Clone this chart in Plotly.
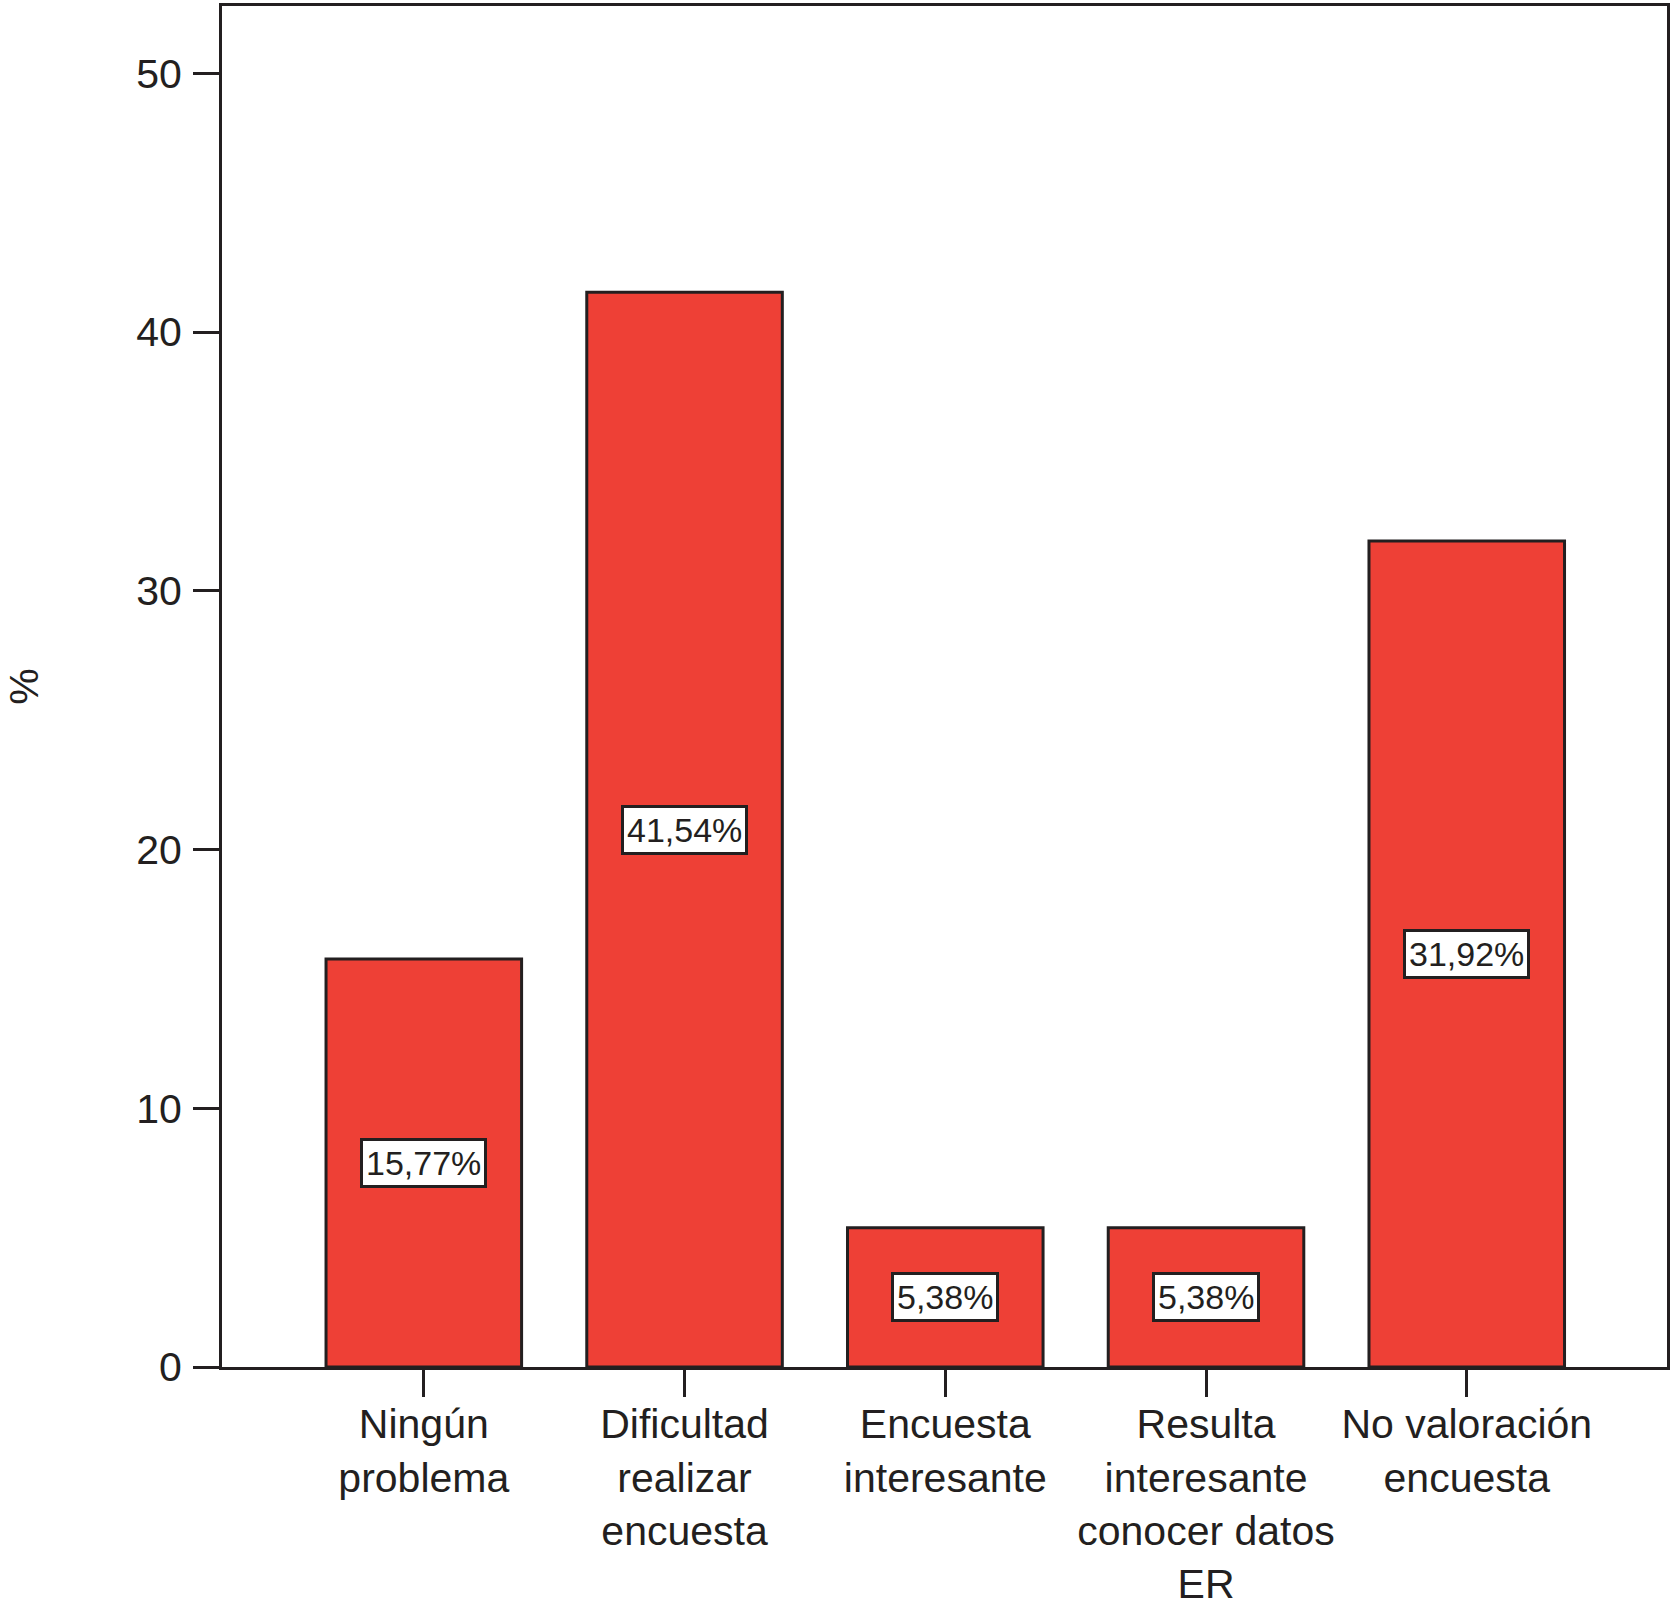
import plotly.graph_objects as go

categories = [
    "Ningún<br>problema",
    "Dificultad<br>realizar<br>encuesta",
    "Encuesta<br>interesante",
    "Resulta<br>interesante<br>conocer datos<br>ER",
    "No valoración<br>encuesta",
]
values = [15.77, 41.54, 5.38, 5.38, 31.92]
value_labels = ["15,77%", "41,54%", "5,38%", "5,38%", "31,92%"]
y_ticks = [0, 10, 20, 30, 40, 50]

INK = "#231f20"
RED = "#ee4036"
FONT = "Liberation Sans, Arial, Helvetica, sans-serif"

fig = go.Figure()
fig.add_trace(go.Bar(
    x=list(range(len(categories))),
    y=values,
    width=0.75,
    marker=dict(color=RED, line=dict(color=INK, width=3)),
    hoverinfo="skip",
))

for i, (v, lab) in enumerate(zip(values, value_labels)):
    fig.add_annotation(
        x=i, y=v / 2, text=lab, showarrow=False,
        font=dict(family=FONT, size=34, color=INK),
        bgcolor="white", bordercolor=INK, borderwidth=3, borderpad=3,
        xanchor="center", yanchor="middle",
    )

fig.update_layout(
    width=1673, height=1610,
    margin=dict(l=222, r=4, t=3, b=239),
    paper_bgcolor="white", plot_bgcolor="white",
    showlegend=False,
    font=dict(family=FONT, size=41, color=INK),
    bargap=0.25,
)
fig.update_xaxes(
    range=[-0.774, 4.768],
    tickmode="array", tickvals=list(range(len(categories))), ticktext=categories,
    ticks="outside", ticklen=27, tickwidth=3, tickcolor=INK,
    showline=True, linecolor=INK, linewidth=3, mirror=True,
    showgrid=False, zeroline=False,
    tickfont=dict(family=FONT, size=41, color=INK),
    ticklabelstandoff=-8,
    fixedrange=True,
)
fig.update_yaxes(
    range=[0, 52.6],
    tickmode="array", tickvals=y_ticks,
    ticks="outside", ticklen=26, tickwidth=3, tickcolor=INK,
    showline=True, linecolor=INK, linewidth=3, mirror=True,
    showgrid=False, zeroline=False,
    tickfont=dict(family=FONT, size=41, color=INK),
    ticklabelstandoff=3,
    title=dict(text="%", font=dict(family=FONT, size=41, color=INK), standoff=85),
    fixedrange=True,
)

fig.write_html(
    "out.html",
    config={"displayModeBar": False},
    post_script="document.body.style.margin='0';",
)
